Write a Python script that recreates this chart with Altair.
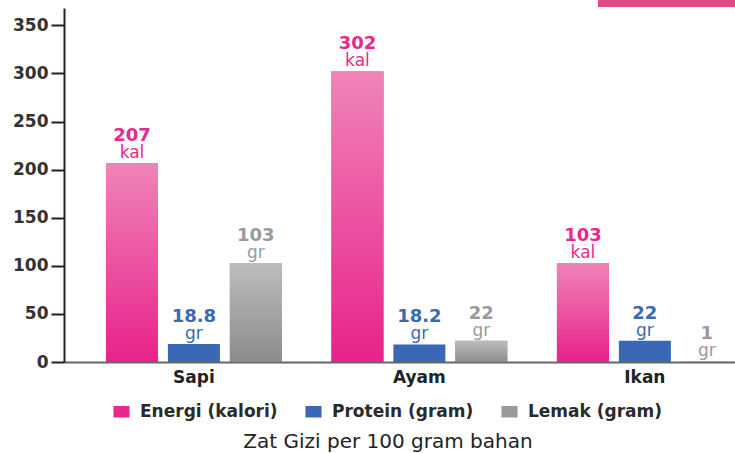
import altair as alt
import pandas as pd

categories = ["Sapi", "Ayam", "Ikan"]
series = ["Energi (kalori)", "Protein (gram)", "Lemak (gram)"]
units = ["kal", "gr", "gr"]
energi = [207, 302, 103]
protein = [18.8, 18.2, 22]
lemak = [103, 22, 1]
energi_lbl = ["207", "302", "103"]
protein_lbl = ["18.8", "18.2", "22"]
lemak_lbl = ["103", "22", "1"]
colors = ["#e8288b", "#3a68b4", "#9a9a9a"]
y_ticks = [0, 50, 100, 150, 200, 250, 300, 350]

rows = []
for vals, lbls, s, u in [(energi, energi_lbl, series[0], units[0]),
                         (protein, protein_lbl, series[1], units[1]),
                         (lemak, lemak_lbl, series[2], units[2])]:
    for c, v, l in zip(categories, vals, lbls):
        rows.append({"Makanan": c, "Zat": s, "nilai": v, "lbl": l, "unit": u})
df = pd.DataFrame(rows)

FONT = "DejaVu Sans"
color_scale = alt.Scale(domain=series, range=colors)

x_enc = alt.X("Makanan:N", sort=categories,
              scale=alt.Scale(paddingInner=0.22, paddingOuter=0.098, align=0.95),
              axis=alt.Axis(title=None, labelAngle=0, ticks=False, domainColor="#666",
                            domainWidth=2, labelFontSize=17, labelFontWeight="bold",
                            labelColor="#222", labelPadding=7, labelFont=FONT))
xo_enc = alt.XOffset("Zat:N", sort=series, scale=alt.Scale(paddingInner=0.16))
y_enc = alt.Y("nilai:Q", scale=alt.Scale(domain=[0, 368], nice=False),
              axis=alt.Axis(title=None, values=y_ticks, grid=False, tickSize=13,
                            tickColor="#222", tickWidth=2, domainColor="#222",
                            domainWidth=2, labelFontSize=17, labelFontWeight="bold",
                            labelColor="#333", labelPadding=3, labelFont=FONT))

base = alt.Chart(df).encode(x=x_enc, xOffset=xo_enc, y=y_enc)

bars = base.mark_bar().encode(
    color=alt.Color("Zat:N", scale=color_scale, sort=series,
                    legend=alt.Legend(orient="none", legendX=49, legendY=395,
                                      direction="horizontal", title="Zat Gizi per 100 gram bahan",
                                      titleOrient="bottom", titleAnchor="middle",
                                      titleFontSize=20, titleFontWeight="normal",
                                      titleColor="#222", titlePadding=12, titleLimit=0,
                                      titleFont=FONT, labelFont=FONT, labelLimit=0,
                                      labelFontSize=17, labelFontWeight="bold",
                                      labelColor="#2a2a2a",
                                      symbolType="M-1.4,-1H1.4V1H-1.4Z",
                                      symbolSize=132, symbolStrokeWidth=0,
                                      columnPadding=27, labelOffset=10))
)

pink_grad = alt.Gradient(gradient="linear", x1=0, x2=0, y1=0, y2=1,
                         stops=[alt.GradientStop(color="#f084b8", offset=0),
                                alt.GradientStop(color="#e8228a", offset=1)])
gray_grad = alt.Gradient(gradient="linear", x1=0, x2=0, y1=0, y2=1,
                         stops=[alt.GradientStop(color="#bdbdbd", offset=0),
                                alt.GradientStop(color="#8c8c8c", offset=1)])

pink = base.mark_bar(color=pink_grad).transform_filter(alt.datum.Zat == series[0])
gray = base.mark_bar(color=gray_grad).transform_filter(alt.datum.Zat == series[2])

num = base.mark_text(baseline="alphabetic", dy=-22, fontSize=18, fontWeight="bold", font=FONT).encode(
    text="lbl:N", color=alt.Color("Zat:N", scale=color_scale, legend=None))
unit = base.mark_text(baseline="alphabetic", dy=-5, fontSize=17, font=FONT).encode(
    text="unit:N", color=alt.Color("Zat:N", scale=color_scale, legend=None))

deco = alt.Chart(pd.DataFrame({"a": [0]})).mark_rect(color="#e04a8a").encode(
    x=alt.value(534), x2=alt.value(671), y=alt.value(-8), y2=alt.value(-1))

chart = alt.layer(bars, pink, gray, num, unit, deco).properties(
    width=671, height=354,
    autosize=alt.AutoSizeParams(type="none"),
    padding={"left": 64, "top": 8, "right": 0, "bottom": 91},
).configure(font=FONT).configure_view(stroke=None)

chart.save("out.html", embed_options={"renderer": "svg", "actions": False})
